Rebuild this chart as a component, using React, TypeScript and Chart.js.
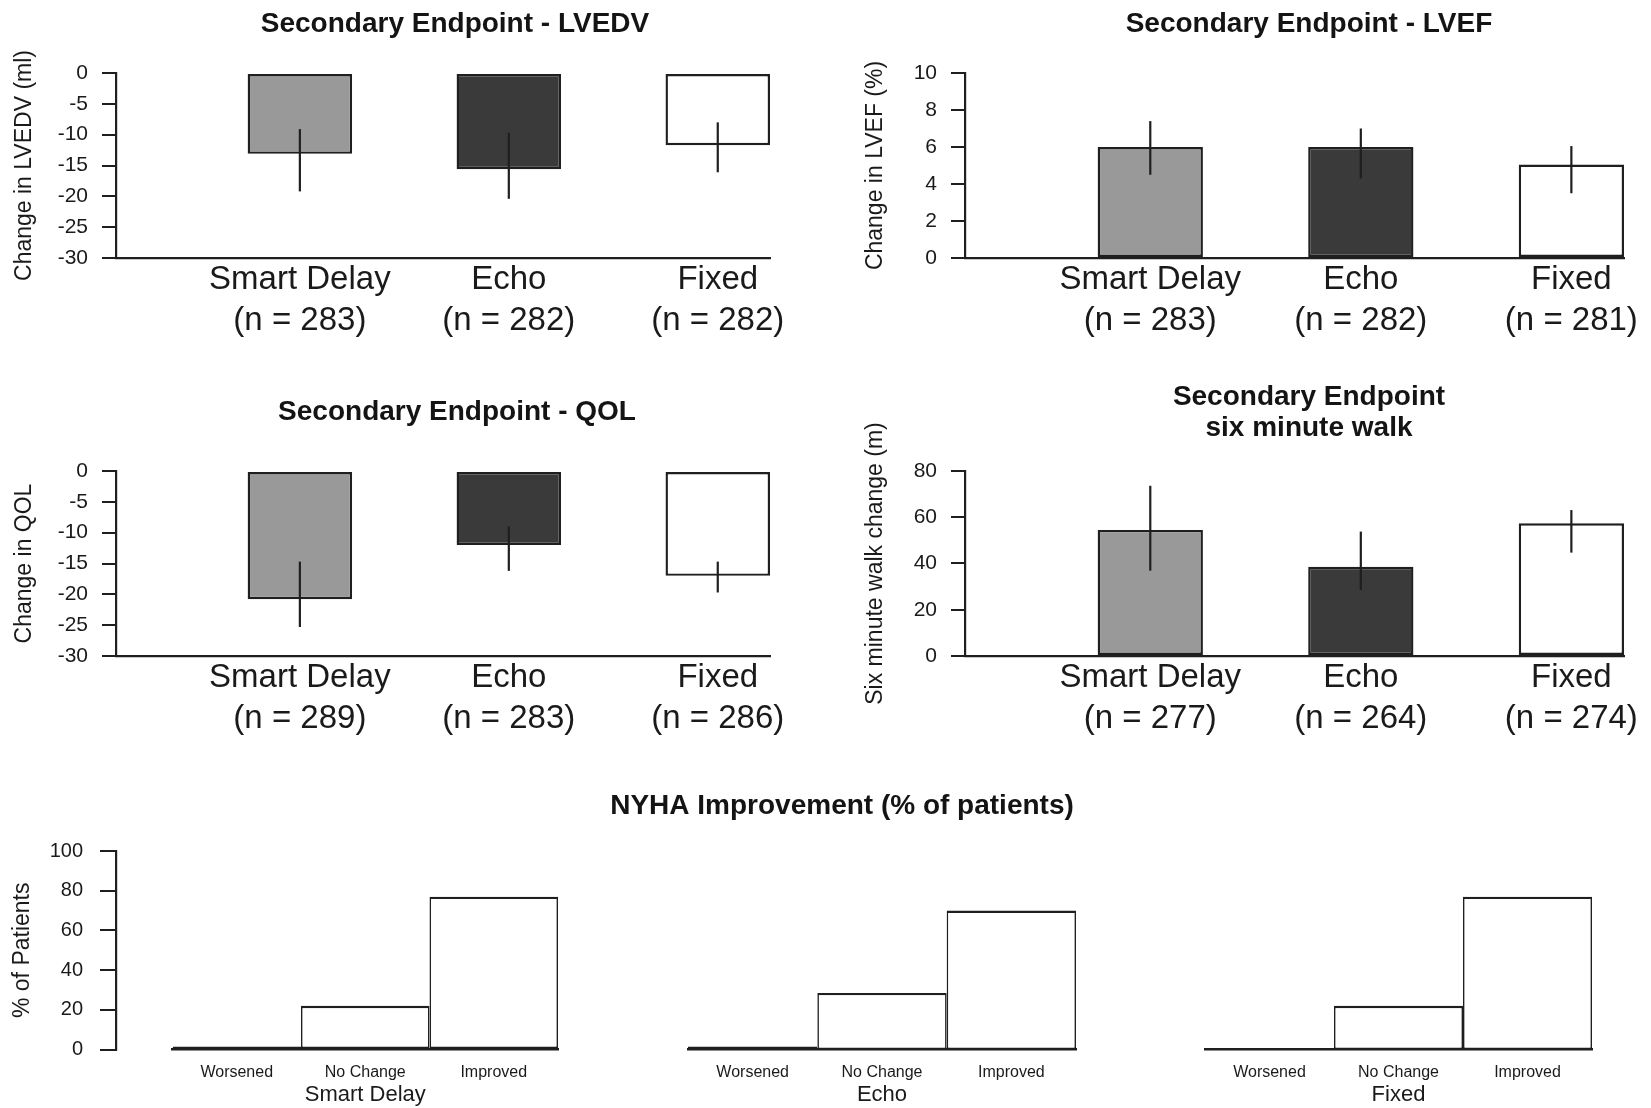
import React, { useEffect, useRef } from 'react';
import { Chart, registerables } from 'chart.js';

Chart.register(...registerables);

const FONT = "'Liberation Sans', Arial, Helvetica, sans-serif";
Chart.defaults.font.family = FONT;
Chart.defaults.color = '#1a1a1a';

const LINE = '#1f1f1f';
const TEXT = '#1a1a1a';

// ---- data ----
const groups = ['Smart Delay', 'Echo', 'Fixed'];
const groupColors = ['#999999', '#3a3a3a', '#ffffff'];

const lvedvN = [283, 282, 282];
const lvedvMean = [-13.1, -15.6, -11.7];
const lvedvErrTop = [-9.1, -9.7, -8.0];
const lvedvErrBottom = [-19.2, -20.4, -16.1];

const lvefN = [283, 282, 281];
const lvefMean = [6.0, 6.0, 5.05];
const lvefErrTop = [7.4, 7.0, 6.05];
const lvefErrBottom = [4.5, 4.3, 3.5];

const qolN = [289, 283, 286];
const qolMean = [-20.8, -12.0, -17.0];
const qolErrTop = [-14.7, -9.0, -14.7];
const qolErrBottom = [-25.3, -16.2, -19.7];

const walkN = [277, 264, 274];
const walkMean = [54.5, 38.6, 57.4];
const walkErrTop = [73.6, 53.8, 63.1];
const walkErrBottom = [36.9, 28.5, 44.7];

const nyhaCategories = ['Worsened', 'No Change', 'Improved'];
const nyhaSmartDelay = [1.5, 22, 77];
const nyhaEcho = [1.5, 28.5, 70];
const nyhaFixed = [0, 22, 77];

// ---- plugins ----
const errorBarPlugin = {
  id: 'errorBars',
  afterDatasetsDraw(chart: any, _args: any, opts: any) {
    if (!opts || !opts.top) return;
    const meta = chart.getDatasetMeta(0);
    const y = chart.scales.y;
    const ctx = chart.ctx;
    ctx.save();
    ctx.strokeStyle = opts.color || LINE;
    ctx.lineWidth = opts.width || 2;
    meta.data.forEach((bar: any, i: number) => {
      ctx.beginPath();
      ctx.moveTo(bar.x, y.getPixelForValue(opts.top[i]));
      ctx.lineTo(bar.x, y.getPixelForValue(opts.bottom[i]));
      ctx.stroke();
    });
    ctx.restore();
  },
};

const shiftYPlugin = {
  id: 'shiftY',
  afterLayout(chart: any, _args: any, opts: any) {
    const s = opts && opts.shift;
    if (!s) return;
    const y = chart.scales.y;
    y.left -= s;
    y.right -= s;
  },
};

// ---- config builders ----
type TopSpec = {
  title: string | string[];
  titleLineHeight: number;
  titlePad: [number, number];
  yTitle: string;
  yMin: number;
  yMax: number;
  yStep: number;
  n: number[];
  mean: number[];
  errTop: number[];
  errBottom: number[];
  yWidth: number;
  yTitlePad: number;
  xHeight: number;
  padRight: number;
};

function topConfig(p: TopSpec): any {
  return {
    type: 'bar',
    data: {
      datasets: [
        {
          data: p.mean.map((v, i) => ({ x: i + 1, y: v })),
          backgroundColor: groupColors,
          borderColor: LINE,
          borderWidth: 2.4,
          borderSkipped: false,
          inflateAmount: 0,
          barPercentage: 0.5,
          categoryPercentage: 1,
        },
      ],
    },
    options: {
      responsive: false,
      animation: false,
      events: [],
      layout: { padding: 0 },
      plugins: {
        legend: { display: false },
        tooltip: { enabled: false },
        title: {
          display: true,
          text: p.title,
          color: '#141414',
          font: { size: 28, weight: 'bold', lineHeight: p.titleLineHeight },
          padding: { top: p.titlePad[0], bottom: p.titlePad[1] },
        },
        errorBars: { top: p.errTop, bottom: p.errBottom, color: LINE, width: 2.2 },
      },
      scales: {
        x: {
          type: 'linear',
          min: 0.12,
          max: 3.25,
          offset: false,
          grid: { display: false, drawTicks: false },
          border: { display: true, color: LINE, width: 2.2 },
          ticks: {
            autoSkip: false,
            maxRotation: 0,
            minRotation: 0,
            padding: 1,
            color: TEXT,
            font: { size: 33, lineHeight: 1.25 },
            callback: (_v: any, i: number) => [groups[i], '(n = ' + p.n[i] + ')'],
          },
          afterBuildTicks: (s: any) => {
            s.ticks = groups.map((_g, i) => ({ value: i + 1 }));
          },
          afterFit: (s: any) => {
            s.height = p.xHeight;
            s.paddingLeft = 0;
            s.paddingRight = p.padRight;
          },
        },
        y: {
          min: p.yMin,
          max: p.yMax,
          ticks: { stepSize: p.yStep, color: TEXT, font: { size: 21 }, padding: 14 },
          grid: {
            display: true,
            drawOnChartArea: false,
            drawTicks: true,
            tickLength: 14,
            color: LINE,
            lineWidth: 2,
          },
          border: { display: true, color: LINE, width: 2.2 },
          title: {
            display: true,
            text: p.yTitle,
            color: TEXT,
            font: { size: 23, lineHeight: 1.2 },
            padding: { top: p.yTitlePad, bottom: 0 },
          },
          afterFit: (s: any) => {
            s.width = p.yWidth;
          },
        },
      },
    },
    plugins: [errorBarPlugin],
  };
}

type NyhaSpec = {
  values: number[];
  group: string;
  title?: string;
  showY: boolean;
  layoutPad: { left: number; top: number };
  padLeft: number;
  padRight: number;
  shift: number;
};

function nyhaConfig(p: NyhaSpec): any {
  return {
    type: 'bar',
    data: {
      labels: nyhaCategories,
      datasets: [
        {
          data: p.values,
          backgroundColor: '#ffffff',
          borderColor: LINE,
          borderWidth: { top: 2.4, bottom: 2, left: 1.6, right: 1.6 },
          borderSkipped: false,
          inflateAmount: 0,
          barPercentage: 1,
          categoryPercentage: 1,
        },
      ],
    },
    options: {
      responsive: false,
      animation: false,
      events: [],
      layout: { padding: { left: p.layoutPad.left, top: p.layoutPad.top, right: 0, bottom: 0 } },
      plugins: {
        legend: { display: false },
        tooltip: { enabled: false },
        title: p.title
          ? {
              display: true,
              text: p.title,
              color: '#141414',
              font: { size: 28, weight: 'bold', lineHeight: 1.2 },
              padding: { top: 19.2, bottom: 28.2 },
            }
          : { display: false },
        shiftY: { shift: p.shift },
      },
      scales: {
        x: {
          offset: true,
          grid: { display: false, drawTicks: false },
          border: { display: true, color: LINE, width: 2.4 },
          ticks: { color: TEXT, font: { size: 16, lineHeight: 1.2 }, padding: 13, maxRotation: 0, autoSkip: false },
          title: {
            display: true,
            text: p.group,
            color: TEXT,
            font: { size: 22, lineHeight: 1.2 },
            padding: { top: 0, bottom: 0 },
          },
          afterFit: (s: any) => {
            s.height = 58.5;
            s.paddingLeft = p.padLeft;
            s.paddingRight = p.padRight;
          },
        },
        y: {
          display: p.showY,
          min: 0,
          max: 100,
          ticks: { stepSize: 20, color: TEXT, font: { size: 20 }, padding: 17 },
          grid: {
            display: true,
            drawOnChartArea: false,
            drawTicks: true,
            tickLength: 16,
            color: LINE,
            lineWidth: 2,
          },
          border: { display: true, color: LINE, width: 2.2 },
          title: {
            display: true,
            text: '% of Patients',
            color: TEXT,
            font: { size: 23, lineHeight: 1.2 },
            padding: { top: 9.2, bottom: 0 },
          },
          afterFit: (s: any) => {
            if (p.showY) s.width = 116;
          },
        },
      },
    },
    plugins: [shiftYPlugin],
  };
}

// ---- component ----
function ChartBox(props: { left: number; top: number; width: number; height: number; build: () => any }) {
  const ref = useRef<HTMLCanvasElement | null>(null);
  useEffect(() => {
    if (!ref.current) return;
    const chart = new Chart(ref.current, props.build());
    return () => chart.destroy();
  }, []);
  return (
    <canvas
      ref={ref}
      width={props.width}
      height={props.height}
      style={{ position: 'absolute', left: props.left, top: props.top, width: props.width, height: props.height }}
    />
  );
}

export default function App() {
  return (
    <div
      style={{
        position: 'absolute',
        left: 0,
        top: 0,
        width: 1651,
        height: 1108,
        overflow: 'hidden',
        background: '#ffffff',
      }}
    >
      <ChartBox
        left={0}
        top={0}
        width={910}
        height={358}
        build={() =>
          topConfig({
            title: 'Secondary Endpoint - LVEDV',
            titleLineHeight: 1.2,
            titlePad: [7.2, 32.2],
            yTitle: 'Change in LVEDV (ml)',
            yMin: -30,
            yMax: 0,
            yStep: 5,
            n: lvedvN,
            mean: lvedvMean,
            errTop: lvedvErrTop,
            errBottom: lvedvErrBottom,
            yWidth: 116,
            yTitlePad: 11.2,
            xHeight: 100,
            padRight: 140,
          })
        }
      />
      <ChartBox
        left={845}
        top={0}
        width={928}
        height={358}
        build={() =>
          topConfig({
            title: 'Secondary Endpoint - LVEF',
            titleLineHeight: 1.2,
            titlePad: [7.2, 32.2],
            yTitle: 'Change in LVEF (%)',
            yMin: 0,
            yMax: 10,
            yStep: 2,
            n: lvefN,
            mean: lvefMean,
            errTop: lvefErrTop,
            errBottom: lvefErrBottom,
            yWidth: 120,
            yTitlePad: 17.2,
            xHeight: 100,
            padRight: 149,
          })
        }
      />
      <ChartBox
        left={0}
        top={388}
        width={914}
        height={368}
        build={() =>
          topConfig({
            title: 'Secondary Endpoint - QOL',
            titleLineHeight: 1.2,
            titlePad: [7.2, 42.2],
            yTitle: 'Change in QOL',
            yMin: -30,
            yMax: 0,
            yStep: 5,
            n: qolN,
            mean: qolMean,
            errTop: qolErrTop,
            errBottom: qolErrBottom,
            yWidth: 116,
            yTitlePad: 11.2,
            xHeight: 100,
            padRight: 144,
          })
        }
      />
      <ChartBox
        left={845}
        top={374}
        width={928}
        height={382}
        build={() =>
          topConfig({
            title: ['Secondary Endpoint', 'six minute walk'],
            titleLineHeight: 1.12,
            titlePad: [7.3, 26.96],
            yTitle: 'Six minute walk change (m)',
            yMin: 0,
            yMax: 80,
            yStep: 20,
            n: walkN,
            mean: walkMean,
            errTop: walkErrTop,
            errBottom: walkErrBottom,
            yWidth: 120,
            yTitlePad: 17.2,
            xHeight: 100,
            padRight: 149,
          })
        }
      />
      <ChartBox
        left={0}
        top={770}
        width={570}
        height={338}
        build={() =>
          nyhaConfig({
            values: nyhaSmartDelay,
            group: 'Smart Delay',
            showY: true,
            layoutPad: { left: 56.5, top: 81 },
            padLeft: 0,
            padRight: 12,
            shift: 56.5,
          })
        }
      />
      <ChartBox
        left={600}
        top={770}
        width={484}
        height={338}
        build={() =>
          nyhaConfig({
            values: nyhaEcho,
            group: 'Echo',
            title: 'NYHA Improvement (% of patients)',
            showY: false,
            layoutPad: { left: 0, top: 0 },
            padLeft: 88,
            padRight: 8,
            shift: 0,
          })
        }
      />
      <ChartBox
        left={1150}
        top={770}
        width={490}
        height={338}
        build={() =>
          nyhaConfig({
            values: nyhaFixed,
            group: 'Fixed',
            showY: false,
            layoutPad: { left: 0, top: 81 },
            padLeft: 55,
            padRight: 48,
            shift: 0,
          })
        }
      />
    </div>
  );
}
